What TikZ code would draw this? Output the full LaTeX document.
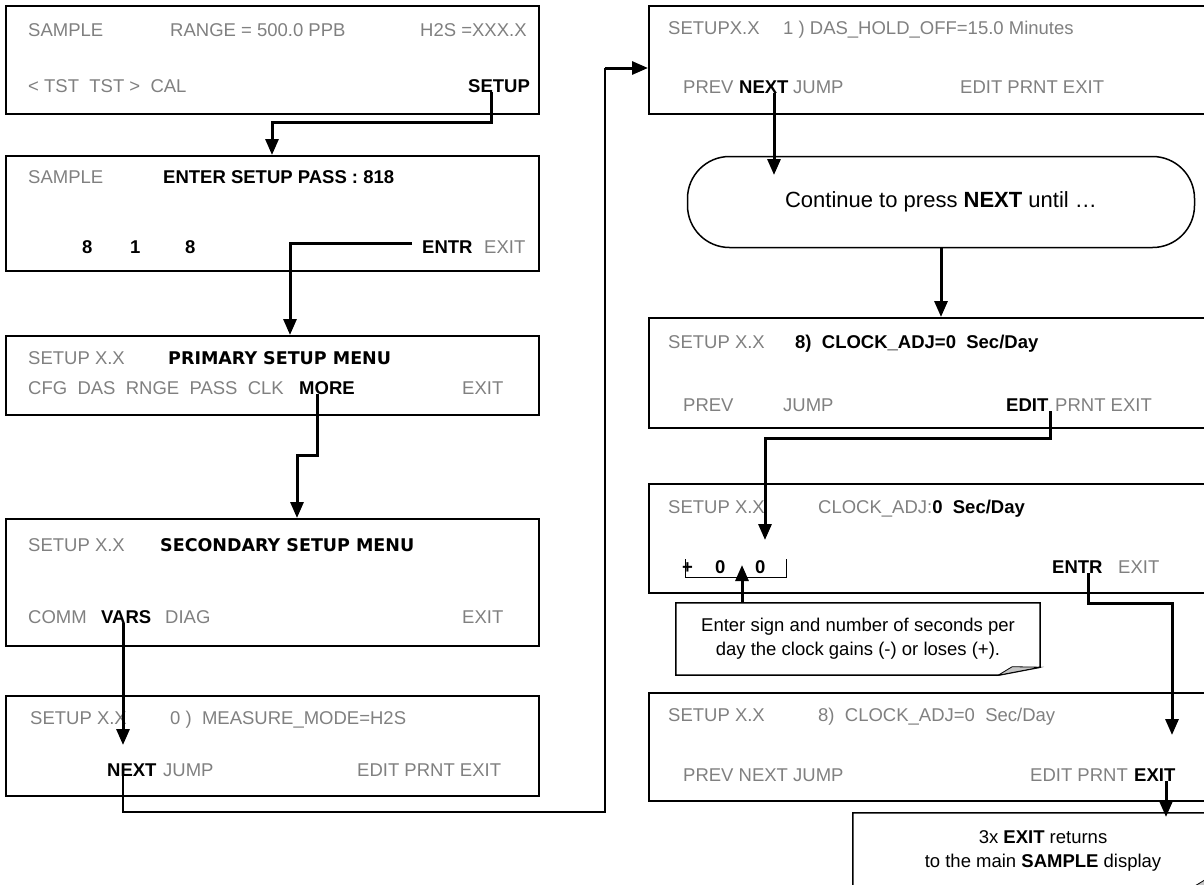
\documentclass[tikz,border=0pt]{standalone}
\usepackage{fontspec}
\setmainfont{Liberation Sans}
\newfontfamily\menufont{DejaVu Sans}
\usetikzlibrary{arrows.meta}
\definecolor{lcd}{RGB}{128,128,128}

% note box with a curled lower right corner
\newcommand{\foldnote}[1]{%
  \draw[line width=1.5pt] (#1.north west) -- (#1.north east)
    -- ([yshift=8pt]#1.south east) -- ([xshift=-42pt]#1.south east)
    -- (#1.south west) -- cycle;
  \filldraw[fill=gray!45, draw=black, line width=0.8pt]
    ([xshift=-42pt]#1.south east) -- ([xshift=-28pt,yshift=8.5pt]#1.south east)
    -- ([yshift=8pt]#1.south east) -- cycle;}

\begin{document}
\begin{tikzpicture}[x=1pt,y=-1pt,
  screen/.style={draw, line width=1.5pt, rectangle, anchor=north west, inner sep=0},
  lbl/.style={anchor=base west, inner sep=0, text=lcd, font=\fontsize{18.5}{22}\selectfont},
  key/.style={anchor=base west, inner sep=0, text=black, font=\fontsize{18.5}{22}\selectfont\bfseries},
  menu/.style={anchor=base west, inner sep=0, text=black, font=\fontsize{17.5}{21}\menufont\bfseries},
  flow/.style={line width=3pt, -{Triangle[width=13pt,length=16pt]}},
  link/.style={line width=1.5pt},
  note/.style={rectangle, inner sep=0, align=center, font=\fontsize{18.5}{24}\selectfont}
]
\useasboundingbox (0,0) rectangle (1204,884);

% ---------- left column ----------
\node[screen, minimum width=533pt, minimum height=108pt] (b1) at (5,5) {};
\node[lbl] (b1a) at (28,36) {SAMPLE};
\node[lbl] (b1b) at (170,36) {RANGE = 500.0 PPB};
\node[lbl] (b1c) at (420,36) {H2S =XXX.X};
\node[lbl] (b1d) at (28,92) {< TST\ \ TST >\ \ CAL};
\node[key] (setup) at (468,92) {SETUP};

\node[screen, minimum width=533pt, minimum height=115pt] (b2) at (5,155) {};
\node[lbl] (b2a) at (28,183) {SAMPLE};
\node[key] (b2b) at (163,183) {ENTER SETUP PASS : 818};
\node[key] (d1) at (82,253) {8};
\node[key] (d2) at (130,253) {1};
\node[key] (d3) at (185,253) {8};
\node[key] (entr2) at (422,253) {ENTR};
\node[lbl] (exit2) at (484,253) {EXIT};

\node[screen, minimum width=533pt, minimum height=79pt] (b3) at (5,335) {};
\node[lbl] (b3a) at (28,364) {SETUP X.X};
\node[menu] (b3b) at (168,364) {PRIMARY SETUP MENU};
\node[lbl] (b3c) at (28,394) {CFG\ \ DAS\ \ RNGE\ \ PASS\ \ CLK};
\node[key] (more) at (299,394) {MORE};
\node[lbl] (exit3) at (462,394) {EXIT};

\node[screen, minimum width=533pt, minimum height=127pt] (b4) at (5,518) {};
\node[lbl] (b4a) at (28,551) {SETUP X.X};
\node[menu] (b4b) at (160,551) {SECONDARY SETUP MENU};
\node[lbl] (comm) at (28,623) {COMM};
\node[key] (vars) at (101,623) {VARS};
\node[lbl] (diag) at (165,623) {DIAG};
\node[lbl] (exit4) at (462,623) {EXIT};

\node[screen, minimum width=533pt, minimum height=100pt] (b5) at (5,695) {};
\node[lbl] (b5a) at (30,724) {SETUP X.X};
\node[lbl] (b5b) at (170,724) {0 )\ \ MEASURE\_MODE=H2S};
\node[key] (next5) at (107,776) {NEXT};
\node[lbl] (jump5) at (163,776) {JUMP};
\node[lbl] (b5c) at (357,776) {EDIT PRNT EXIT};

% ---------- right column ----------
\node[screen, minimum width=600pt, minimum height=108pt] (b6) at (648,5) {};
\node[lbl] (b6a) at (668,34) {SETUPX.X};
\node[lbl] (b6b) at (783,34) {1 ) DAS\_HOLD\_OFF=15.0 Minutes};
\node[lbl] (prev6) at (683,93) {PREV};
\node[key] (next6) at (739,93) {NEXT};
\node[lbl] (jump6) at (793,93) {JUMP};
\node[lbl] (b6c) at (960,93) {EDIT PRNT EXIT};

\node[draw, line width=1.5pt, rounded corners=42pt, minimum width=507pt,
      minimum height=91pt, font=\fontsize{22}{26}\selectfont] (cont) at (941,202)
      {Continue to press \textbf{NEXT} until …};

\node[screen, minimum width=600pt, minimum height=110pt] (b7) at (648,317) {};
\node[lbl] (b7a) at (668,348) {SETUP X.X};
\node[key] (b7b) at (795,348) {8)\ \ CLOCK\_ADJ=0\ \ Sec/Day};
\node[lbl] (prev7) at (683,411) {PREV};
\node[lbl] (jump7) at (783,411) {JUMP};
\node[key] (edit7) at (1006,411) {EDIT};
\node[lbl] (b7c) at (1055,411) {PRNT EXIT};

\node[screen, minimum width=600pt, minimum height=109pt] (b8) at (648,483) {};
\node[lbl] (b8a) at (668,513) {SETUP X.X};
\node[lbl] (b8b) at (818,513) {CLOCK\_ADJ:\textcolor{black}{\bfseries 0\ \ Sec/Day}};
\node[key] (sign) at (682,573) {+};
\node[key] (dig1) at (715,573) {0};
\node[key] (dig2) at (755,573) {0};
\node[key] (entr8) at (1052,573) {ENTR};
\node[lbl] (exit8) at (1118,573) {EXIT};
\draw[line width=1pt] (685,559) -- (685,577) -- (786,577) -- (786,559);

\node[note, minimum width=364pt, minimum height=72pt] (call1) at (858,639)
  {Enter sign and number of seconds per\\day the clock gains (-) or loses (+).};
\foldnote{call1}

\node[screen, minimum width=600pt, minimum height=108pt] (b9) at (648,692) {};
\node[lbl] (b9a) at (668,721) {SETUP X.X};
\node[lbl] (b9b) at (818,721) {8)\ \ CLOCK\_ADJ=0\ \ Sec/Day};
\node[lbl] (b9c) at (683,781) {PREV NEXT JUMP};
\node[lbl] (b9d) at (1030,781) {EDIT PRNT};
\node[key] (exit9) at (1134,781) {EXIT};

\node[note, minimum width=380pt, minimum height=75pt] (call2) at (1043,850.5)
  {3x \textbf{EXIT} returns\\to the main \textbf{SAMPLE} display};
\foldnote{call2}

% ---------- connectors ----------
\coordinate (k1) at (272,122);
\draw[flow] ([xshift=-8pt]setup.south) |- (k1) -- (k1 |- b2.north);

\coordinate (k2) at (290,243);
\draw[flow] ([xshift=-10pt]entr2.west |- k2) -- (k2) -- (k2 |- b3.north);

\coordinate (k3) at (297,455);
\draw[flow] ([xshift=-9pt]more.south) |- (k3) -- (k3 |- b4.north);

\coordinate (t4) at (123,745);
\draw[flow] (t4 |- vars.south) -- (t4);

\coordinate (r1) at (123,812);
\coordinate (r2) at (605,68);
\draw[link] (r1 |- next5.base) -- (r1) -| (r2);
\draw[flow] (r2) -- (b6.west |- r2);

\coordinate (t6) at (774,175);
\draw[flow] (t6 |- next6.base) -- (t6);

\draw[flow] (cont.south) -- (cont.south |- b7.north);

\coordinate (k7) at (765,438);
\coordinate (t7) at (765,540);
\draw[flow] ([xshift=2pt]edit7.base east) |- (k7) -- (t7);

\coordinate (t8) at (742,565);
\draw[flow] (t8 |- call1.north) -- (t8);

\coordinate (k8) at (1172,603);
\coordinate (t9) at (1172,735);
\draw[flow] ([xshift=-14pt]entr8.base east) |- (k8) -- (t9);

\coordinate (t10) at (1166,817);
\draw[flow] (t10 |- exit9.base) -- (t10);
\end{tikzpicture}
\end{document}
